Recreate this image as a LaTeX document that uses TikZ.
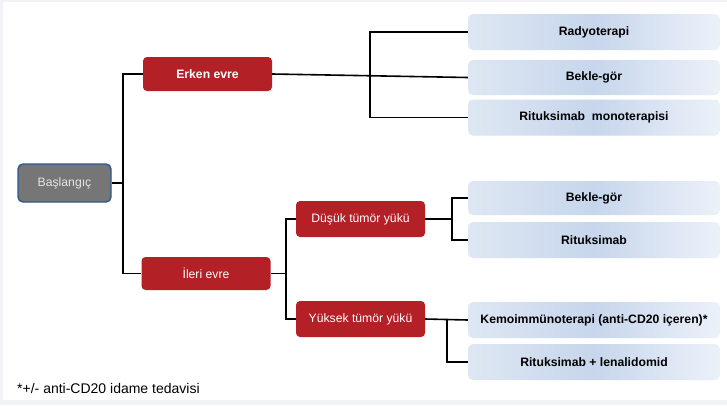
\documentclass[tikz,border=0pt]{standalone}
\usepackage{fontspec}
\setmainfont{Liberation Sans}
\usepackage{tikz}
\usetikzlibrary{calc}
\usepackage{xcolor}
\definecolor{stagered}{RGB}{179, 32, 38}
\definecolor{startgray}{RGB}{118, 118, 118}
\definecolor{startblue}{RGB}{44, 88, 145}
\definecolor{optlight}{RGB}{222, 231, 243}
\definecolor{optmid}{RGB}{199, 214, 236}
\definecolor{optright}{RGB}{236, 241, 249}
\definecolor{framegray}{RGB}{242, 243, 247}

\begin{document}
\begin{tikzpicture}[
		x=1pt, y=-1pt,
		% Node styles
		startbox/.style={
			draw=startblue, fill=startgray, rounded corners=5pt,
			minimum width=93pt, minimum height=38pt, inner sep=0pt,
			text=black!10, line width=1.4pt,
			font=\fontsize{12.2}{14}\selectfont
		},
		stagebox/.style={
			fill=stagered, rounded corners=4pt,
			minimum width=129pt, minimum height=35pt, inner sep=0pt,
			text=white, font=\fontsize{12.2}{14}\selectfont
		},
		optbox/.style={
			left color=optlight, right color=optright, middle color=optmid,
			rounded corners=5pt,
			minimum width=252pt, minimum height=36pt, inner sep=0pt,
			font=\bfseries\fontsize{12.2}{14}\selectfont
		},
		conn/.style={line width=1.6pt, black}
	]

	% Frame
	\fill[framegray] (0,0) rectangle (727,405);
	\fill[white] (3,2) rectangle (727,400);
	\useasboundingbox (0,0) rectangle (727,405);

	% Nodes (left to right)
	\node[startbox] (start) at (64.5,183) {Başlangıç};

	\node[stagebox, minimum height=34pt, font=\bfseries\fontsize{12.2}{14}\selectfont] (erken) at (207.5,74) {Erken evre};
	\node[stagebox, minimum height=33pt] (ileri) at (206,273.5) {İleri evre};

	\node[stagebox, minimum height=36pt] (dusuk) at (360.5,219) {Düşük tümör yükü};
	\node[stagebox, minimum height=36pt] (yuksek) at (360.5,319) {Yüksek tümör yükü};

	\node[optbox] (radyo)  at (594,32)  {Radyoterapi};
	\node[optbox, minimum height=35pt] (bekle1) at (594,77.5) {Bekle-gör};
	\node[optbox] (ritux1) at (594,117.5) {Rituksimab~~monoterapisi};

	\node[optbox, minimum height=34pt] (bekle2) at (594,198) {Bekle-gör};
	\node[optbox] (ritux2) at (594,240) {Rituksimab};

	\node[optbox] (kemo)  at (594,320) {Kemoimmünoterapi (anti-CD20 içeren)*};
	\node[optbox] (lenal) at (594,362) {Rituksimab + lenalidomid};

	\node[anchor=west, inner sep=0pt, font=\fontsize{14}{16}\selectfont] (note) at (17,388) {*+/- anti-CD20 idame tedavisi};

	% Connectors
	\coordinate (b0) at (123,183);
	\draw[conn] (start.east) -- (b0);
	\draw[conn] (erken.west) -| (b0) |- (ileri.west);

	\coordinate (b1) at (370,74);
	\draw[conn] (erken.east) -- (bekle1.west);
	\draw[conn] (radyo.west) -| (b1) |- (ritux1.west);

	\coordinate (b2) at (286,273.5);
	\draw[conn] (ileri.east) -- (b2);
	\draw[conn] (dusuk.west) -| (b2) |- (yuksek.west);

	\coordinate (b3) at (452,219);
	\draw[conn] (dusuk.east) -- (b3);
	\draw[conn] (bekle2.west) -| (b3) |- (ritux2.west);

	\coordinate (b4) at (447,320);
	\draw[conn] (yuksek.east) -- (kemo.west);
	\draw[conn] (b4) |- (lenal.west);

\end{tikzpicture}
\end{document}
